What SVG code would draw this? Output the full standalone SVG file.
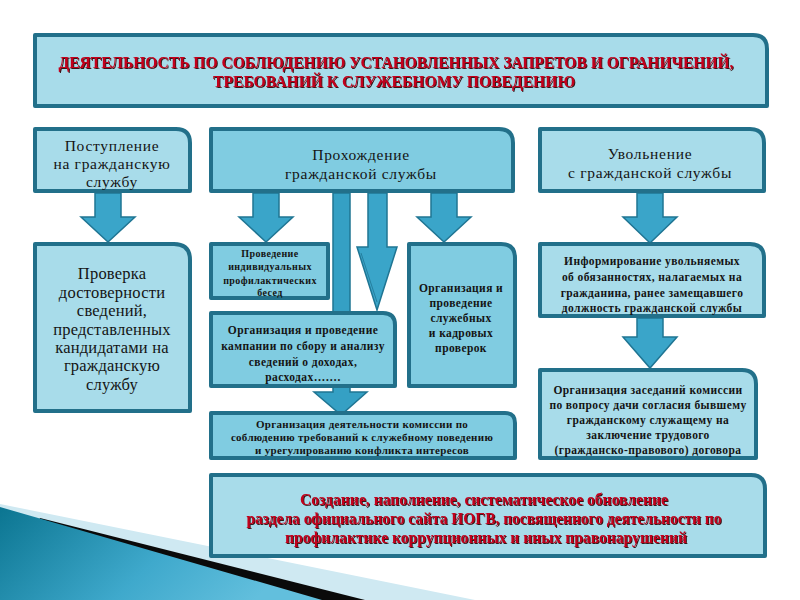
<svg xmlns="http://www.w3.org/2000/svg" width="800" height="600" viewBox="0 0 800 600" font-family="'Liberation Serif', serif">
<defs>
<linearGradient id="wedge" x1="0" y1="0" x2="1" y2="0.3">
<stop offset="0" stop-color="#0b7591"/>
<stop offset="0.6" stop-color="#3fa9cc"/>
<stop offset="1" stop-color="#62bfdd"/>
</linearGradient>
<filter id="sh" x="-5%" y="-20%" width="110%" height="150%">
<feDropShadow dx="1" dy="1" stdDeviation="0.2" flood-color="#2a0000" flood-opacity="0.9"/>
</filter>
<style>
.box{stroke:#22708a;stroke-width:4;stroke-linejoin:round}
.light{fill:#a8dcea}
.mid{fill:#80cce1}
.arrow{fill:#3aa5c9;stroke:#1f7593;stroke-width:1.5;stroke-linejoin:miter}
.bar{fill:#35a0c4;stroke:#1f7593;stroke-width:1.5}
text{text-anchor:middle;fill:#141414}
.n{font-size:15.5px;letter-spacing:0.7px}
.p{font-size:16.5px;letter-spacing:0.2px}
.s{font-size:11.5px;font-weight:bold;letter-spacing:0.4px}
.xs{font-size:10px;font-weight:bold;letter-spacing:0.4px}
.k{font-size:11px;font-weight:bold;letter-spacing:0.3px}
.red{fill:#c3001c;font-weight:bold;font-size:16px;filter:url(#sh)}
</style>
</defs>
<rect width="800" height="600" fill="#ffffff"/>
<g id="decoration">
<polygon points="0,504 475,600 0,600" fill="#cfe9f2"/>
<polygon points="40,518 365,600 0,600" fill="#0a0a0a"/>
<polygon points="0,507 322,600 0,600" fill="url(#wedge)"/>
</g>
<g id="connectors">
<polygon class="arrow" points="95,193 121,193 121,217 135,217 108,242 81,217 95,217"/>
<polygon class="arrow" points="253,193 279,193 279,217 293,217 266,242 239,217 253,217"/>
<polygon class="arrow" points="431,193 457,193 457,217 471,217 444,242 417,217 431,217"/>
<polygon class="arrow" points="637,193 663,193 663,217 677,217 650,243 623,217 637,217"/>
<polygon class="bar" points="333,193 350,193 350,392 367,392 341,415 314,392 333,392"/>
<polygon class="arrow" points="368,193 387,193 387,247 397,247 377,310 357,247 368,247"/>
<line x1="361" y1="253" x2="377" y2="302" stroke="#1f7593" stroke-width="0.8"/>
<polygon class="arrow" points="637,318 663,318 663,337 677,337 650,368 623,337 637,337"/>
</g>
<g id="title">
<path class="box light" d="M35,35 H753 Q767,35 767,49 V106 H35 Z"/>
<text class="red" x="396" y="68" textLength="675" lengthAdjust="spacingAndGlyphs">ДЕЯТЕЛЬНОСТЬ ПО СОБЛЮДЕНИЮ УСТАНОВЛЕННЫХ ЗАПРЕТОВ И ОГРАНИЧЕНИЙ,</text>
<text class="red" x="394" y="87" textLength="362" lengthAdjust="spacingAndGlyphs">ТРЕБОВАНИЙ К СЛУЖЕБНОМУ ПОВЕДЕНИЮ</text>
</g>
<g id="postuplenie">
<path class="box light" d="M35,129 H176 Q190,129 190,143 V191 H35 Z"/>
<text class="n" x="112" y="151">Поступление</text>
<text class="n" x="112" y="169">на гражданскую</text>
<text class="n" x="112" y="187">службу</text>
</g>
<g id="prohozhdenie">
<path class="box mid" d="M211,129 H499 Q513,129 513,143 V191 H211 Z"/>
<text class="n" x="361" y="160">Прохождение</text>
<text class="n" x="361" y="179">гражданской службы</text>
</g>
<g id="uvolnenie">
<path class="box light" d="M540,129 H750 Q764,129 764,143 V191 H540 Z"/>
<text class="n" x="650" y="159">Увольнение</text>
<text class="n" x="650" y="178">с гражданской службы</text>
</g>
<g id="proverka">
<path class="box light" d="M35,244 H174 Q190,244 190,260 V411 H35 Z"/>
<text class="p" x="112" y="279">Проверка</text>
<text class="p" x="112" y="298">достоверности</text>
<text class="p" x="112" y="316">сведений,</text>
<text class="p" x="112" y="335">представленных</text>
<text class="p" x="112" y="353">кандидатами на</text>
<text class="p" x="112" y="371">гражданскую</text>
<text class="p" x="112" y="390">службу</text>
</g>
<g id="besedy">
<path class="box mid" d="M211,244 H328 V298 H211 Z"/>
<text class="xs" x="270" y="257">Проведение</text>
<text class="xs" x="270" y="270">индивидуальных</text>
<text class="xs" x="270" y="284">профилактических</text>
<text class="xs" x="270" y="296">бесед</text>
</g>
<g id="kampaniya">
<path class="box mid" d="M211,313 H383 Q395,313 395,325 V386 H211 Z"/>
<text class="s" x="303" y="334">Организация и проведение</text>
<text class="s" x="303" y="350">кампании по сбору и анализу</text>
<text class="s" x="303" y="366">сведений о доходах,</text>
<text class="s" x="303" y="381">расходах…….</text>
</g>
<g id="proverki">
<path class="box mid" d="M409,244 H501 Q515,244 515,258 V386 H409 Z"/>
<text class="s" x="461" y="292">Организация и</text>
<text class="s" x="461" y="307">проведение</text>
<text class="s" x="461" y="322">служебных</text>
<text class="s" x="461" y="337">и кадровых</text>
<text class="s" x="461" y="352">проверок</text>
</g>
<g id="informirovanie">
<path class="box light" d="M540,244 H750 Q764,244 764,258 V316 H540 Z"/>
<text class="s" x="652" y="265">Информирование увольняемых</text>
<text class="s" x="652" y="281">об обязанностях, налагаемых на</text>
<text class="s" x="652" y="297">гражданина, ранее замещавшего</text>
<text class="s" x="652" y="312">должность гражданской службы</text>
</g>
<g id="zasedaniya">
<path class="box light" d="M540,370 H742 Q756,370 756,384 V458 H540 Z"/>
<text class="s" x="648" y="394">Организация заседаний комиссии</text>
<text class="s" x="648" y="409">по вопросу дачи согласия бывшему</text>
<text class="s" x="648" y="424">гражданскому служащему на</text>
<text class="s" x="648" y="439">заключение трудового</text>
<text class="s" x="648" y="454">(гражданско-правового) договора</text>
</g>
<g id="komissiya">
<path class="box mid" d="M211,413 H505 Q515,413 515,423 V458 H211 Z"/>
<text class="k" x="362" y="428">Организация деятельности комиссии по</text>
<text class="k" x="362" y="441">соблюдению требований к служебному поведению</text>
<text class="k" x="362" y="454">и урегулированию конфликта интересов</text>
</g>
<g id="sait">
<path class="box light" d="M211,475 H751 Q765,475 765,489 V556 H211 Z"/>
<text class="red" x="484" y="505" textLength="368" lengthAdjust="spacingAndGlyphs">Создание, наполнение, систематическое обновление</text>
<text class="red" x="484" y="524" textLength="475" lengthAdjust="spacingAndGlyphs">раздела официального сайта ИОГВ, посвященного деятельности по</text>
<text class="red" x="486" y="543" textLength="402" lengthAdjust="spacingAndGlyphs">профилактике коррупционных и иных правонарушений</text>
</g>
</svg>
